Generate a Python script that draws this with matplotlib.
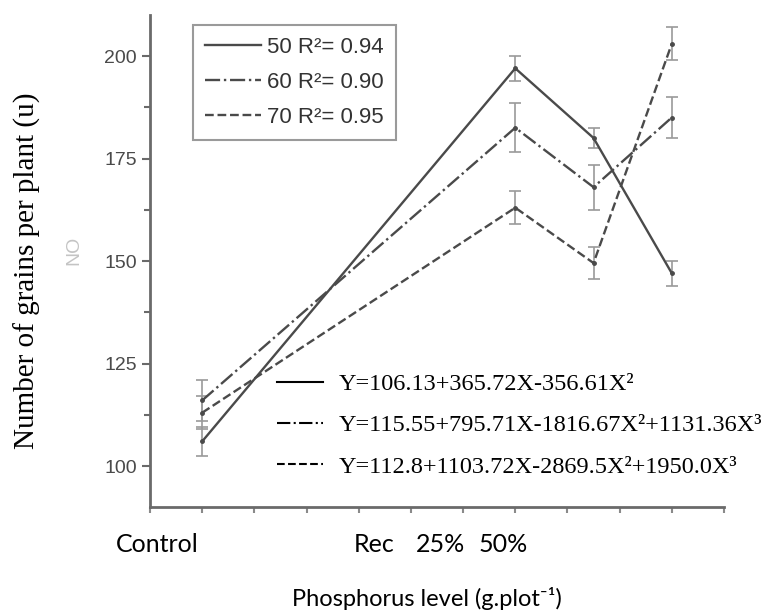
import matplotlib
matplotlib.use("Agg")
import matplotlib.pyplot as plt
from matplotlib.lines import Line2D
from matplotlib.ticker import MultipleLocator, NullFormatter

# positions on the (unlabelled) x axis, control .. highest level
x_pos = [0, 6, 7.5, 9]

y50 = [106.0, 197.0, 180.0, 147.0]
e50 = [3.5, 3.0, 2.5, 3.0]
y60 = [116.0, 182.5, 168.0, 185.0]
e60 = [5.0, 6.0, 5.5, 5.0]
y70 = [113.0, 163.0, 149.5, 203.0]
e70 = [4.0, 4.0, 3.8, 4.0]

series_labels = ["50 R²= 0.94", "60 R²= 0.90", "70 R²= 0.95"]
equations = ["Y=106.13+365.72X-356.61X²",
             "Y=115.55+795.71X-1816.67X²+1131.36X³",
             "Y=112.8+1103.72X-2869.5X²+1950.0X³"]
level_labels = ["Control", "Rec", "25%", "50%"]
level_x = [157, 374, 440, 503]

W, H = 764, 616
fig = plt.figure(figsize=(W / 100, H / 100), dpi=100)
ax = fig.add_axes([150 / W, 1 - 507 / H, 574 / W, 492 / H])

styles = ["-", "-.", "--"]
line_col = "#4a4a4a"
err_col = "#9a9a9a"
for ys, es, ls in zip([y50, y60, y70], [e50, e60, e70], styles):
    ax.errorbar(x_pos, ys, yerr=es, fmt="none", ecolor=err_col, elinewidth=1.2,
                capsize=4, capthick=1.2, zorder=2)
    ax.plot(x_pos, ys, ls=ls, color=line_col, lw=1.7, marker="o", ms=2.5, zorder=3)

ax.set_xlim(-1, 10)
ax.set_ylim(90, 210)
ax.xaxis.set_major_locator(MultipleLocator(1))
ax.xaxis.set_major_formatter(NullFormatter())
ax.yaxis.set_minor_locator(MultipleLocator(12.5))
ax.set_yticks([100, 125, 150, 175, 200])

for s in ["top", "right"]:
    ax.spines[s].set_visible(False)
for s in ["left", "bottom"]:
    ax.spines[s].set_color("#6a6a6a")
    ax.spines[s].set_linewidth(2)
ax.tick_params(axis="y", which="major", length=6, width=1.5, color="#6a6a6a",
               labelsize=14, labelcolor="#4a4a4a")
ax.tick_params(axis="y", which="minor", length=4, width=1.5, color="#6a6a6a")
ax.tick_params(axis="x", which="major", length=4, width=1.5, color="#8a8a8a")
for t in ax.get_yticklabels():
    t.set_family("Liberation Sans")

leg_handles = [Line2D([], [], ls=ls, color=line_col, lw=1.7) for ls in styles]
leg1 = ax.legend(leg_handles, series_labels, loc="upper left",
                 bbox_to_anchor=(0.075, 0.98), borderaxespad=0, fancybox=False,
                 edgecolor="#9a9a9a",
                 prop={"family": "Liberation Sans", "size": 16},
                 handlelength=2.5, handletextpad=0.3, labelspacing=0.62,
                 borderpad=0.55, framealpha=1)
leg1.get_frame().set_linewidth(1.5)
for t in leg1.get_texts():
    t.set_color("#333333")
ax.add_artist(leg1)

eq_handles = [Line2D([], [], ls=ls, color="black", lw=1.5) for ls in styles]
ax.legend(eq_handles, equations, loc="upper left",
          bbox_to_anchor=(277 / W, 1 - 373 / H), bbox_transform=fig.transFigure,
          borderaxespad=0, borderpad=0, frameon=False,
          prop={"family": "Liberation Serif", "size": 17.5},
          handlelength=1.9, handletextpad=0.65, labelspacing=0.8)

for lab, xp in zip(level_labels, level_x):
    fig.text(xp / W, 1 - 544 / H, lab, ha="center", va="center",
             family="Lato", fontsize=18)

fig.text(427 / W, 1 - 598 / H, "Phosphorus level (g.plot⁻¹)", ha="center",
         va="center", family=["Lato", "DejaVu Sans"], fontsize=17)
fig.text(27 / W, 1 - 271 / H, "Number of grains per plant (u)", ha="center",
         va="center", rotation=90, family="Liberation Serif", fontsize=21)
fig.text(74 / W, 1 - 250 / H, "NO", ha="center", va="center", rotation=90,
         family="Liberation Sans", fontsize=14, color="#c4c4c4")

fig.savefig("out.png", dpi=100)
